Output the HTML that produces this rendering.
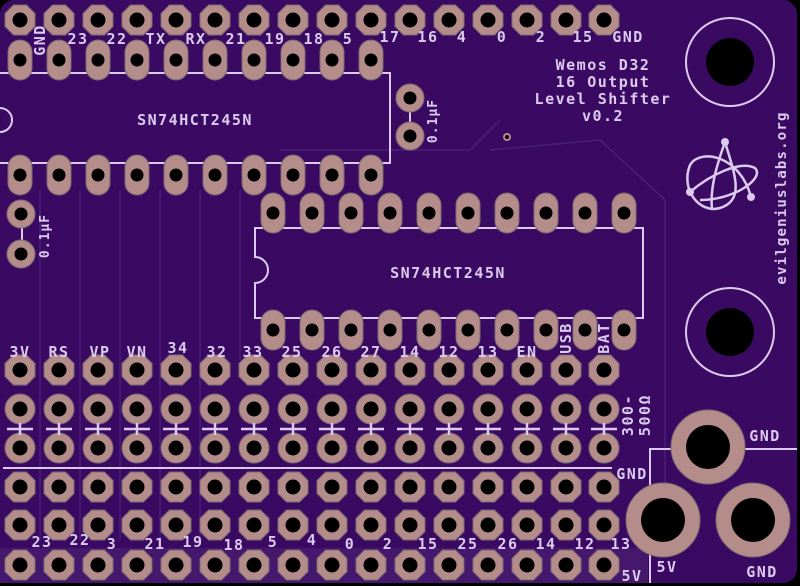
<!DOCTYPE html>
<html><head><style>html,body{margin:0;padding:0;background:#000;}svg{display:block}</style></head>
<body>
<svg width="800" height="586" viewBox="0 0 800 586" xmlns="http://www.w3.org/2000/svg">
<defs>
<g id="oct"><polygon points="-6.5,-15 6.5,-15 15,-6.5 15,6.5 6.5,15 -6.5,15 -15,6.5 -15,-6.5" fill="#b48c8a" stroke="#7a6a70" stroke-width="1"/><circle r="7.5" fill="#000"/></g>
<g id="rnd"><circle r="15" fill="#b48c8a" stroke="#7a6a70" stroke-width="1"/><circle r="7.5" fill="#000"/></g>
<g id="ovl"><rect x="-12" y="-20" width="24" height="40" rx="12" fill="#b48c8a" stroke="#7a6a70" stroke-width="1"/><circle r="6.5" fill="#000"/></g>
<g id="cap"><circle r="14" fill="#b48c8a" stroke="#7a6a70" stroke-width="1"/><circle r="6.5" fill="#000"/></g>
<g id="big"><circle r="37" fill="#b48c8a" stroke="#7a6a70" stroke-width="1"/><circle r="22" fill="#000"/></g>
</defs>
<rect x="0" y="0" width="797" height="583" rx="14" fill="#3a0a62"/>
<rect x="0" y="548" width="648" height="35" fill="#45176d"/>
<g stroke="#4e2580" stroke-width="1.5" fill="none" opacity="0.8">
<path d="M40 190 V540"/><path d="M80 190 V540"/><path d="M120 190 V540"/><path d="M160 190 V540"/><path d="M200 190 V540"/><path d="M240 190 V360"/><path d="M490 150 L600 140 L665 200 V540"/><path d="M280 150 L470 150 L500 120"/>
</g>
<g font-family="'DejaVu Sans Mono','Liberation Mono',monospace" font-weight="bold" fill="#dccbee">
<g stroke="#dccbee" stroke-width="2" fill="none">
<path d="M0 73 H390 V163 H0"/>
<path d="M0 108 A12 12 0 0 1 0 132"/>
<path d="M255 228 H643 V318 H255 V283 A13 13 0 0 0 255 257 Z"/>
<path d="M3 468 H612"/>
<path d="M650 583 V449 H797"/>
<circle cx="730" cy="62" r="44"/>
<circle cx="730" cy="332" r="44"/>
<path d="M410 106 V124 M22 226 V242"/>
</g>
<g>
<use href="#oct" x="20" y="20"/><use href="#oct" x="59" y="20"/><use href="#oct" x="98" y="20"/><use href="#oct" x="137" y="20"/><use href="#oct" x="176" y="20"/><use href="#oct" x="215" y="20"/><use href="#oct" x="254" y="20"/><use href="#oct" x="293" y="20"/><use href="#oct" x="332" y="20"/><use href="#oct" x="371" y="20"/><use href="#oct" x="410" y="20"/><use href="#oct" x="449" y="20"/><use href="#oct" x="488" y="20"/><use href="#oct" x="527" y="20"/><use href="#oct" x="566" y="20"/><use href="#oct" x="604" y="20"/>
</g>
<g>
<use href="#ovl" x="20" y="60"/><use href="#ovl" x="59" y="60"/><use href="#ovl" x="98" y="60"/><use href="#ovl" x="137" y="60"/><use href="#ovl" x="176" y="60"/><use href="#ovl" x="215" y="60"/><use href="#ovl" x="254" y="60"/><use href="#ovl" x="293" y="60"/><use href="#ovl" x="332" y="60"/><use href="#ovl" x="371" y="60"/>
<use href="#ovl" x="20" y="175"/><use href="#ovl" x="59" y="175"/><use href="#ovl" x="98" y="175"/><use href="#ovl" x="137" y="175"/><use href="#ovl" x="176" y="175"/><use href="#ovl" x="215" y="175"/><use href="#ovl" x="254" y="175"/><use href="#ovl" x="293" y="175"/><use href="#ovl" x="332" y="175"/><use href="#ovl" x="371" y="175"/>
</g>
<g>
<use href="#ovl" x="273" y="213"/><use href="#ovl" x="312" y="213"/><use href="#ovl" x="351" y="213"/><use href="#ovl" x="390" y="213"/><use href="#ovl" x="429" y="213"/><use href="#ovl" x="468" y="213"/><use href="#ovl" x="507" y="213"/><use href="#ovl" x="546" y="213"/><use href="#ovl" x="585" y="213"/><use href="#ovl" x="624" y="213"/>
<use href="#ovl" x="273" y="330"/><use href="#ovl" x="312" y="330"/><use href="#ovl" x="351" y="330"/><use href="#ovl" x="390" y="330"/><use href="#ovl" x="429" y="330"/><use href="#ovl" x="468" y="330"/><use href="#ovl" x="507" y="330"/><use href="#ovl" x="546" y="330"/><use href="#ovl" x="585" y="330"/><use href="#ovl" x="624" y="330"/>
</g>
<use href="#cap" x="410" y="98"/><use href="#cap" x="410" y="136"/>
<use href="#cap" x="21" y="214"/><use href="#cap" x="21" y="254"/>
<circle cx="507" cy="137" r="4" fill="#b48c8a"/><circle cx="507" cy="137" r="2" fill="#000"/>
<g id="r1">
<use href="#oct" x="20" y="370"/><use href="#oct" x="59" y="370"/><use href="#oct" x="98" y="370"/><use href="#oct" x="137" y="370"/><use href="#oct" x="176" y="370"/><use href="#oct" x="215" y="370"/><use href="#oct" x="254" y="370"/><use href="#oct" x="293" y="370"/><use href="#oct" x="332" y="370"/><use href="#oct" x="371" y="370"/><use href="#oct" x="410" y="370"/><use href="#oct" x="449" y="370"/><use href="#oct" x="488" y="370"/><use href="#oct" x="527" y="370"/><use href="#oct" x="566" y="370"/><use href="#oct" x="604" y="370"/>
</g>
<g id="r2">
<use href="#rnd" x="20" y="409"/><use href="#rnd" x="59" y="409"/><use href="#rnd" x="98" y="409"/><use href="#rnd" x="137" y="409"/><use href="#rnd" x="176" y="409"/><use href="#rnd" x="215" y="409"/><use href="#rnd" x="254" y="409"/><use href="#rnd" x="293" y="409"/><use href="#rnd" x="332" y="409"/><use href="#rnd" x="371" y="409"/><use href="#rnd" x="410" y="409"/><use href="#rnd" x="449" y="409"/><use href="#rnd" x="488" y="409"/><use href="#rnd" x="527" y="409"/><use href="#rnd" x="566" y="409"/><use href="#rnd" x="604" y="409"/>
</g>
<use href="#r2" y="39"/>
<g stroke="#dccbee" stroke-width="2.5">
<path d="M7 429H33M46 429H72M85 429H111M124 429H150M163 429H189M202 429H228M241 429H267M280 429H306M319 429H345M358 429H384M397 429H423M436 429H462M475 429H501M514 429H540M553 429H579M591 429H617"/>
<path d="M20 423V435M59 423V435M98 423V435M137 423V435M176 423V435M215 423V435M254 423V435M293 423V435M332 423V435M371 423V435M410 423V435M449 423V435M488 423V435M527 423V435M566 423V435M604 423V435"/>
</g>
<use href="#r1" y="117"/><use href="#r1" y="155"/><use href="#r1" y="195"/>
<use href="#big" x="708" y="447"/><use href="#big" x="663" y="520"/><use href="#big" x="753" y="520"/>
<circle cx="730" cy="62" r="24" fill="#000"/><circle cx="730" cy="332" r="24" fill="#000"/>
<g font-size="15" letter-spacing="1.5">
<text x="78" y="44" text-anchor="middle">23</text><text x="117" y="44" text-anchor="middle">22</text><text x="156" y="44" text-anchor="middle">TX</text><text x="196" y="44" text-anchor="middle">RX</text><text x="236" y="44" text-anchor="middle">21</text><text x="275" y="44" text-anchor="middle">19</text><text x="314" y="44" text-anchor="middle">18</text><text x="348" y="44" text-anchor="middle">5</text><text x="390" y="42" text-anchor="middle">17</text><text x="428" y="42" text-anchor="middle">16</text><text x="462" y="42" text-anchor="middle">4</text><text x="502" y="42" text-anchor="middle">0</text><text x="541" y="42" text-anchor="middle">2</text><text x="583" y="42" text-anchor="middle">15</text><text x="628" y="42" text-anchor="middle">GND</text>
<text transform="translate(45,40) rotate(-90)" text-anchor="middle">GND</text>
<text x="20" y="357" text-anchor="middle">3V</text><text x="59" y="357" text-anchor="middle">RS</text><text x="100" y="357" text-anchor="middle">VP</text><text x="137" y="357" text-anchor="middle">VN</text><text x="178" y="353" text-anchor="middle">34</text><text x="217" y="357" text-anchor="middle">32</text><text x="253" y="357" text-anchor="middle">33</text><text x="292" y="357" text-anchor="middle">25</text><text x="332" y="357" text-anchor="middle">26</text><text x="371" y="357" text-anchor="middle">27</text><text x="410" y="357" text-anchor="middle">14</text><text x="449" y="357" text-anchor="middle">12</text><text x="488" y="357" text-anchor="middle">13</text><text x="527" y="357" text-anchor="middle">EN</text>
<text transform="translate(571,338) rotate(-90)" text-anchor="middle">USB</text><text transform="translate(609,338) rotate(-90)" text-anchor="middle">BAT</text>
<text x="42" y="547" text-anchor="middle">23</text><text x="80" y="545" text-anchor="middle">22</text><text x="112" y="549" text-anchor="middle">3</text><text x="155" y="549" text-anchor="middle">21</text><text x="193" y="547" text-anchor="middle">19</text><text x="234" y="550" text-anchor="middle">18</text><text x="273" y="547" text-anchor="middle">5</text><text x="312" y="545" text-anchor="middle">4</text><text x="350" y="549" text-anchor="middle">0</text><text x="388" y="549" text-anchor="middle">2</text><text x="428" y="549" text-anchor="middle">15</text><text x="468" y="549" text-anchor="middle">25</text><text x="508" y="549" text-anchor="middle">26</text><text x="546" y="549" text-anchor="middle">14</text><text x="585" y="549" text-anchor="middle">12</text><text x="621" y="549" text-anchor="middle">13</text>
<text x="632" y="479" text-anchor="middle">GND</text>
<text x="632" y="581" text-anchor="middle">5V</text><text x="667" y="572" text-anchor="middle">5V</text><text x="765" y="441" text-anchor="middle">GND</text><text x="762" y="577" text-anchor="middle">GND</text>
<text transform="translate(633,415) rotate(-90)" text-anchor="middle">300-</text><text transform="translate(650,415) rotate(-90)" text-anchor="middle">500Ω</text>
<text x="195" y="125" text-anchor="middle">SN74HCT245N</text>
<text x="448" y="278" text-anchor="middle">SN74HCT245N</text>
<text x="603" y="70" text-anchor="middle">Wemos D32</text><text x="603" y="87" text-anchor="middle">16 Output</text><text x="603" y="104" text-anchor="middle">Level Shifter</text><text x="603" y="121" text-anchor="middle">v0.2</text>
<text transform="translate(437,121) rotate(-90)" text-anchor="middle" font-size="13" letter-spacing="1">0.1µF</text>
<text transform="translate(49,236) rotate(-90)" text-anchor="middle" font-size="13" letter-spacing="1">0.1µF</text>
<text transform="translate(786,198) rotate(-90)" text-anchor="middle" font-size="14" letter-spacing="1.2">evilgeniuslabs.org</text>
</g>
<g stroke="#dccbee" stroke-width="2.5" fill="none">
<path d="M725 142 C735 175 745 200 720 208 C700 214 680 190 690 165 C700 148 740 155 751 197"/>
<path d="M690 192 C710 175 740 160 755 168 C765 178 735 200 700 200"/>
<path d="M725 142 C715 170 710 190 712 210"/>
</g>
<circle cx="725" cy="142" r="4" fill="#dccbee"/><circle cx="690" cy="192" r="4" fill="#dccbee"/><circle cx="751" cy="197" r="4" fill="#dccbee"/>
</g>
</svg>
</body></html>
